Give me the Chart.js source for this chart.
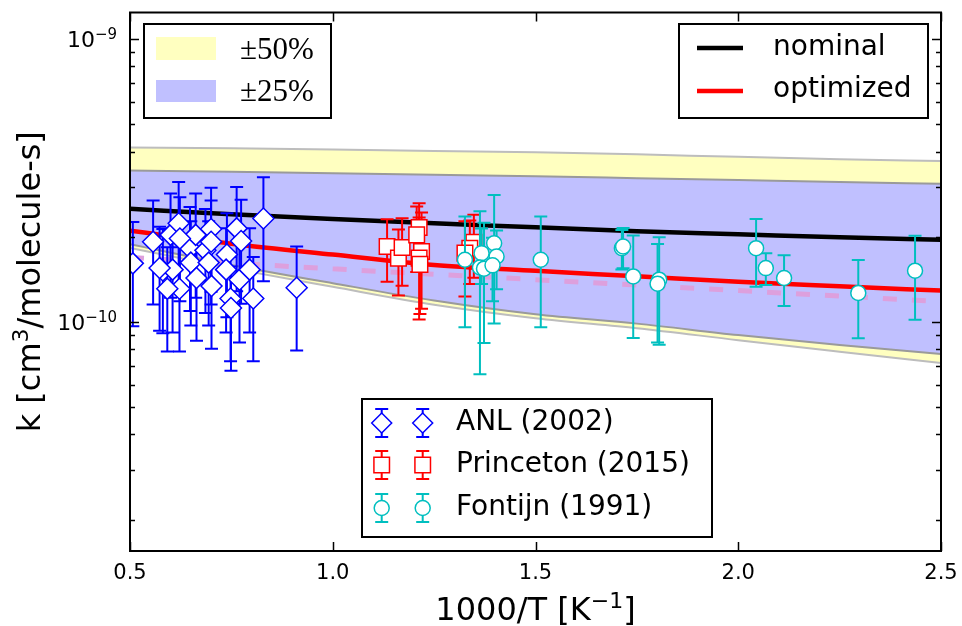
<!DOCTYPE html>
<html><head><meta charset="utf-8">
<script src="https://cdn.jsdelivr.net/npm/chart.js@4.4.1/dist/chart.umd.min.js"></script>
<style>html,body{margin:0;padding:0;background:#fff;}canvas{display:block;}</style>
</head><body>
<canvas id="c" width="962" height="626"></canvas>
<script>
// ---------------- data ----------------
const xTickValues = [0.5, 1.0, 1.5, 2.0, 2.5];
const yTickLabels = [{ v: 1e-9, base: '10', exp: '\u22129' }, { v: 1e-10, base: '10', exp: '\u221210' }];

const curveX = [0.5, 0.75, 1.0, 1.25, 1.5, 1.75, 2.0, 2.25, 2.5];
const nominal = [2.51e-10, 2.40e-10, 2.31e-10, 2.23e-10, 2.16e-10, 2.09e-10, 2.04e-10, 1.99e-10, 1.95e-10];
const optimized = [2.10e-10, 1.89e-10, 1.73e-10, 1.59e-10, 1.515e-10, 1.45e-10, 1.385e-10, 1.336e-10, 1.29e-10];
const pinkX = [0.5, 1.0, 1.5, 2.0, 2.5];
const pinkDashed = [1.69e-10, 1.54e-10, 1.41e-10, 1.29e-10, 1.18e-10];
const band50Upper = [4.13e-10, 4.11e-10, 4.07e-10, 4.02e-10, 3.98e-10, 3.91e-10, 3.83e-10, 3.76e-10, 3.70e-10];
const band50Lower = [1.825e-10, 1.546e-10, 1.33e-10, 1.15e-10, 1.03e-10, 0.950e-10, 0.862e-10, 0.785e-10, 0.716e-10];
const band25Upper = [3.43e-10, 3.39e-10, 3.35e-10, 3.31e-10, 3.27e-10, 3.22e-10, 3.17e-10, 3.12e-10, 3.08e-10];
const band25Lower = [1.88e-10, 1.59e-10, 1.37e-10, 1.19e-10, 1.064e-10, 0.986e-10, 0.898e-10, 0.828e-10, 0.770e-10];

const anlX = [0.507, 0.557, 0.581, 0.600, 0.605, 0.620, 0.622, 0.592, 0.648, 0.650, 0.662, 0.664, 0.686, 0.694, 0.700,
  0.700, 0.701, 0.739, 0.737, 0.748, 0.749, 0.763, 0.774, 0.770, 0.795, 0.804, 0.829, 0.911, 0.623, 0.573];
const anlK = [1.61e-10, 1.92e-10, 1.52e-10, 2.03e-10, 1.53e-10, 2.23e-10, 1.31e-10, 1.31e-10, 1.82e-10, 1.62e-10, 2.03e-10,
  1.43e-10, 1.79e-10, 1.62e-10, 2.13e-10, 1.92e-10, 1.34e-10, 1.73e-10, 1.53e-10, 1.21e-10, 1.12e-10, 2.14e-10, 1.93e-10,
  1.41e-10, 1.53e-10, 1.21e-10, 2.32e-10, 1.32e-10, 1.97e-10, 1.55e-10];
const anlErr = [0.644e-10, 0.768e-10, 0.608e-10, 0.812e-10, 0.612e-10, 0.892e-10, 0.524e-10, 0.524e-10, 0.728e-10, 0.648e-10,
  0.812e-10, 0.572e-10, 0.716e-10, 0.648e-10, 0.852e-10, 0.768e-10, 0.536e-10, 0.692e-10, 0.612e-10, 0.484e-10, 0.448e-10,
  0.856e-10, 0.772e-10, 0.564e-10, 0.612e-10, 0.484e-10, 0.928e-10, 0.528e-10, 0.788e-10, 0.620e-10];

const princetonX = [1.134, 1.162, 1.171, 1.213, 1.207, 1.219, 1.213, 1.215, 1.348, 1.338, 1.326];
const princetonK = [1.847e-10, 1.68e-10, 1.832e-10, 2.156e-10, 2.03e-10, 1.774e-10, 1.68e-10, 1.597e-10, 1.912e-10, 1.822e-10, 1.75e-10];
const princetonErr = [0.46e-10, 0.44e-10, 0.49e-10, 0.47e-10, 0.53e-10, 0.66e-10, 0.66e-10, 0.53e-10, 0.48e-10, 0.46e-10, 0.52e-10];

const fontijnX = [1.326, 1.367, 1.363, 1.373, 1.398, 1.404, 1.394, 1.513, 1.713, 1.716, 1.741, 1.805, 1.801, 2.044, 2.068, 2.113, 2.296, 2.436];
const fontijnK = [1.658e-10, 1.75e-10, 1.558e-10, 1.542e-10, 1.897e-10, 1.703e-10, 1.584e-10, 1.658e-10, 1.822e-10, 1.847e-10,
  1.448e-10, 1.41e-10, 1.365e-10, 1.822e-10, 1.549e-10, 1.429e-10, 1.265e-10, 1.517e-10];
const fontijnErr = [0.70e-10, 0.39e-10, 0.905e-10, 0.70e-10, 0.91e-10, 0.40e-10, 0.40e-10, 0.70e-10, 0.29e-10, 0.30e-10,
  0.57e-10, 0.58e-10, 0.52e-10, 0.49e-10, 0.20e-10, 0.29e-10, 0.39e-10, 0.50e-10];

const bandLabels = ['\u00b150%', '\u00b125%'];
const lineLabels = ['nominal', 'optimized'];
const dataLabels = ['ANL (2002)', 'Princeton (2015)', 'Fontijn (1991)'];

// ---------------- style ----------------
const SANS = "'DejaVu Sans', sans-serif";
const SERIF = "'Liberation Serif', 'DejaVu Serif', serif";
const C_ANL = '#0000ff', C_PR = '#ff0000', C_FO = '#00bfbf';
const C_Y = '#ffffc0', C_B = '#c0c0ff';

const pts = (xs, ys) => xs.map((x, i) => ({ x, y: ys[i] }));

const lineDs = (label, xs, ys, color, width, order, extra) => Object.assign({
  type: 'line', label, data: pts(xs, ys), borderColor: color, borderWidth: width, pointRadius: 0,
  fill: false, cubicInterpolationMode: 'monotone', order
}, extra || {});

const scatterDs = (label, xs, ys, errs, color, style, radius, order) => ({
  type: 'scatter', label, data: pts(xs, ys), errors: errs, showLine: false,
  pointStyle: style, pointRadius: radius, pointHoverRadius: radius,
  pointBackgroundColor: '#ffffff', pointBorderColor: color, pointBorderWidth: 1.5, order
});

const datasets = [
  scatterDs(dataLabels[2], fontijnX, fontijnK, fontijnErr, C_FO, 'circle', 7.5, 0),      // 0
  scatterDs(dataLabels[1], princetonX, princetonK, princetonErr, C_PR, 'rect', 11, 1),    // 1
  scatterDs(dataLabels[0], anlX, anlK, anlErr, C_ANL, 'rectRot', 10.5, 2),               // 2
  lineDs(lineLabels[1], curveX, optimized, '#ff0000', 4.5, 3),                            // 3
  lineDs(lineLabels[0], curveX, nominal, '#000000', 4.5, 4),                              // 4
  lineDs('dashed', pinkX, pinkDashed, '#dda0dd', 5, 5, { borderDash: [14, 15] }),         // 5
  lineDs(bandLabels[1] + ' upper', curveX, band25Upper, '#9a9a9a', 2, 6, { fill: { target: 7 }, backgroundColor: C_B }), // 6
  lineDs(bandLabels[1] + ' lower', curveX, band25Lower, '#9a9a9a', 2, 7),                 // 7
  lineDs(bandLabels[0] + ' upper', curveX, band50Upper, '#bdbdbd', 2, 8, { fill: { target: 9 }, backgroundColor: C_Y }), // 8
  lineDs(bandLabels[0] + ' lower', curveX, band50Lower, '#bdbdbd', 2, 9)                  // 9
];

// ---------------- decoration plugin ----------------
function drawMarker(ctx, style, x, y, r, color) {
  ctx.beginPath();
  if (style === 'circle') ctx.arc(x, y, r, 0, Math.PI * 2);
  else if (style === 'rect') { const s = r * Math.SQRT1_2; ctx.rect(x - s, y - s, 2 * s, 2 * s); }
  else { ctx.moveTo(x - r, y); ctx.lineTo(x, y - r); ctx.lineTo(x + r, y); ctx.lineTo(x, y + r); ctx.closePath(); }
  ctx.fillStyle = '#fff'; ctx.fill();
  ctx.lineWidth = 1.5; ctx.strokeStyle = color; ctx.stroke();
}
function drawErr(ctx, x, yt, yb, color, cap) {
  ctx.beginPath();
  ctx.moveTo(x, yt); ctx.lineTo(x, yb);
  ctx.moveTo(x - cap, yt); ctx.lineTo(x + cap, yt);
  ctx.moveTo(x - cap, yb); ctx.lineTo(x + cap, yb);
  ctx.strokeStyle = color; ctx.lineWidth = 2; ctx.stroke();
}
function legendBox(ctx, x, y, w, h) {
  ctx.fillStyle = '#fff'; ctx.fillRect(x, y, w, h);
  ctx.strokeStyle = '#000'; ctx.lineWidth = 2; ctx.strokeRect(x, y, w, h);
}
function supText(ctx, parts, x, y, size, family, draw) {
  let cx = x;
  for (const [t, sup] of parts) {
    ctx.font = (sup ? Math.round(size * 0.7) : size) + 'px ' + family;
    if (draw) ctx.fillText(t, cx, sup ? y - size * 0.38 : y);
    cx += ctx.measureText(t).width;
  }
  return cx - x;
}

const decor = {
  id: 'decor',
  beforeDatasetDraw(chart, args) {
    const ds = chart.data.datasets[args.index];
    if (!ds.errors) return;
    const { ctx, chartArea: a } = chart;
    const ys = chart.scales.y;
    ctx.save();
    ctx.beginPath(); ctx.rect(a.left, a.top, a.right - a.left, a.bottom - a.top); ctx.clip();
    args.meta.data.forEach((pt, i) => {
      const v = ds.data[i].y, e = ds.errors[i];
      drawErr(ctx, pt.x, ys.getPixelForValue(v + e), ys.getPixelForValue(v - e), ds.pointBorderColor, 6.5);
    });
    ctx.restore();
  },
  afterDatasetsDraw(chart) {
    const { ctx, chartArea: a } = chart;
    const xs = chart.scales.x, ys = chart.scales.y;
    ctx.save();
    ctx.strokeStyle = '#000'; ctx.lineWidth = 1.5;
    for (let k = -12; k <= -9; k++) {
      for (let m = 1; m <= 9; m++) {
        const v = m * Math.pow(10, k);
        if (v < ys.min || v > ys.max) continue;
        const p = Math.round(ys.getPixelForValue(v)) + 0.5;
        const len = m === 1 ? 9 : 5;
        ctx.beginPath();
        ctx.moveTo(a.left, p); ctx.lineTo(a.left + len, p);
        ctx.moveTo(a.right, p); ctx.lineTo(a.right - len, p);
        ctx.stroke();
      }
    }
    xTickValues.forEach(v => {
      const p = Math.round(xs.getPixelForValue(v)) + 0.5;
      ctx.beginPath();
      ctx.moveTo(p, a.bottom); ctx.lineTo(p, a.bottom - 9);
      ctx.moveTo(p, a.top); ctx.lineTo(p, a.top + 9);
      ctx.stroke();
    });
    ctx.lineWidth = 2;
    ctx.strokeRect(a.left, a.top, a.right - a.left, a.bottom - a.top);
    ctx.restore();
  },
  afterDraw(chart) {
    const { ctx, chartArea: a } = chart;
    const ys = chart.scales.y;
    ctx.save();
    ctx.fillStyle = '#000';
    ctx.textBaseline = 'alphabetic';
    ctx.textAlign = 'left';
    yTickLabels.forEach(t => {
      const p = ys.getPixelForValue(t.v);
      const parts = [[t.base, false], [t.exp, true]];
      const w = supText(ctx, parts, 0, 0, 22, SANS, false);
      supText(ctx, parts, a.left - 13 - w, p + 8, 22, SANS, true);
    });
    const xParts = [['1000/T [K', false], ['\u22121', true], [']', false]];
    const xw = supText(ctx, xParts, 0, 0, 32, SANS, false);
    supText(ctx, xParts, (a.left + a.right) / 2 - xw / 2, 620, 32, SANS, true);
    const yParts = [['k [cm', false], ['3', true], ['/molecule-s]', false]];
    const yw = supText(ctx, yParts, 0, 0, 32, SANS, false);
    ctx.save();
    ctx.translate(40, (a.top + a.bottom) / 2);
    ctx.rotate(-Math.PI / 2);
    supText(ctx, yParts, -yw / 2, 0, 32, SANS, true);
    ctx.restore();

    legendBox(ctx, 144, 24, 187, 94);
    ctx.fillStyle = C_Y; ctx.fillRect(156, 37, 60, 23);
    ctx.fillStyle = C_B; ctx.fillRect(156, 80, 60, 22);
    ctx.fillStyle = '#000'; ctx.font = '31px ' + SERIF;
    ctx.fillText(bandLabels[0], 240, 59);
    ctx.fillText(bandLabels[1], 240, 101);

    legendBox(ctx, 679, 24, 249, 94);
    ctx.lineWidth = 4.5;
    ctx.strokeStyle = '#000'; ctx.beginPath(); ctx.moveTo(697, 48); ctx.lineTo(743, 48); ctx.stroke();
    ctx.strokeStyle = '#ff0000'; ctx.beginPath(); ctx.moveTo(697, 91); ctx.lineTo(743, 91); ctx.stroke();
    ctx.fillStyle = '#000'; ctx.font = '28px ' + SANS; ctx.textBaseline = 'middle';
    ctx.fillText(lineLabels[0], 773, 48);
    ctx.fillText(lineLabels[1], 773, 90);

    legendBox(ctx, 362, 399, 350, 138);
    const rows = [[C_ANL, 'diamond', 10, 423], [C_PR, 'rect', 11, 465], [C_FO, 'circle', 7.5, 508]];
    rows.forEach(([col, st, r, y], i) => {
      [381.7, 422.7].forEach(x => {
        drawErr(ctx, x, y - 14, y + 14, col, 6.5);
        drawMarker(ctx, st, x, y, r, col);
      });
      ctx.fillStyle = '#000'; ctx.font = '28px ' + SANS; ctx.textBaseline = 'middle';
      ctx.fillText(dataLabels[i], 456, y);
    });
    ctx.restore();
  }
};

new Chart(document.getElementById('c'), {
  data: { datasets },
  options: {
    responsive: false, animation: false, events: [],
    layout: { padding: { left: 0, top: 10, right: 21, bottom: 0 } },
    plugins: { legend: { display: false }, tooltip: { enabled: false }, filler: { drawTime: 'beforeDatasetsDraw' } },
    scales: {
      x: {
        type: 'linear', min: 0.5, max: 2.5,
        grid: { display: false, drawTicks: false }, border: { display: false },
        ticks: { stepSize: 0.5, callback: v => v.toFixed(1), color: '#000', font: { family: SANS, size: 21 }, padding: 10, maxRotation: 0 },
        afterFit: s => { s.height = 75; s.paddingLeft = 0; s.paddingRight = 0; }
      },
      y: {
        type: 'logarithmic', min: 1.55e-11, max: 1.24e-9,
        grid: { display: false, drawTicks: false }, border: { display: false },
        ticks: { display: false },
        afterFit: s => { s.width = 130; s.paddingTop = 0; s.paddingBottom = 0; }
      }
    }
  },
  plugins: [decor]
});
</script>
</body></html>
